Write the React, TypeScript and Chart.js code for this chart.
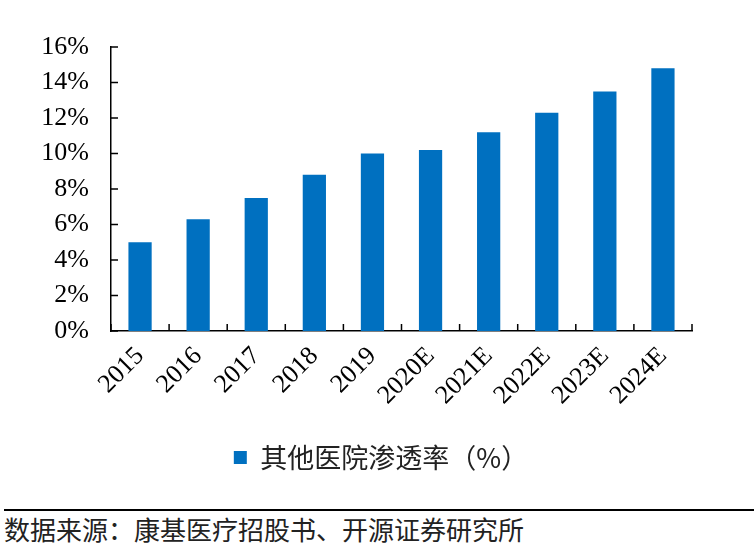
import { useEffect, useRef } from 'react'
import { Chart, registerables } from 'chart.js'

Chart.register(...registerables)

const years = ['2015', '2016', '2017', '2018', '2019', '2020E', '2021E', '2022E', '2023E', '2024E']
const penetration = [5.0, 6.3, 7.5, 8.8, 10.0, 10.2, 11.2, 12.3, 13.5, 14.8]
const seriesName = '其他医院渗透率（%）'
const sourceText = '数据来源：康基医疗招股书、开源证券研究所'

const serif = '"Liberation Serif", "Times New Roman", serif'
const cjk = '"Noto Sans CJK SC", sans-serif'

// ticks point into the plot, so draw them by hand
const innerTicks = {
  id: 'innerTicks',
  afterDraw(chart: any) {
    const ctx = chart.ctx
    const x = chart.scales.x
    const y = chart.scales.y
    ctx.save()
    ctx.strokeStyle = '#000'
    ctx.lineWidth = 1.5
    ctx.beginPath()
    y.ticks.forEach((t: any) => {
      const py = y.getPixelForValue(t.value)
      ctx.moveTo(x.left, py)
      ctx.lineTo(x.left + 7, py)
    })
    for (let i = 0; i <= years.length; i++) {
      const px = x.getPixelForValue(i - 0.5)
      ctx.moveTo(px, y.bottom)
      ctx.lineTo(px, y.bottom - 7)
    }
    ctx.stroke()
    ctx.restore()
  },
}

const App = () => {
  const chartRef = useRef<HTMLCanvasElement>(null)

  useEffect(() => {
    document.body.style.margin = '0'
    if (!chartRef.current) return
    const myChart = new Chart(chartRef.current, {
      type: 'bar',
      data: {
        labels: years,
        datasets: [
          {
            label: seriesName,
            data: penetration,
            backgroundColor: '#0070C0',
            barPercentage: 0.4,
            categoryPercentage: 1,
          },
        ],
      },
      options: {
        animation: false,
        responsive: false,
        layout: { padding: { top: 47, right: 26, bottom: 19, left: 34 } },
        plugins: {
          tooltip: { enabled: false },
          legend: {
            position: 'bottom',
            labels: {
              boxWidth: 13,
              boxHeight: 13,
              padding: 10,
              color: '#222',
              font: { family: cjk, size: 27 },
            },
          },
        },
        scales: {
          x: {
            grid: { display: false, drawTicks: false },
            border: { color: '#000', width: 1.5 },
            ticks: {
              maxRotation: 45,
              minRotation: 45,
              padding: 10,
              color: '#000',
              font: { family: serif, size: 26 },
            },
            afterFit(scale: any) {
              scale.height = 103
            },
          },
          y: {
            min: 0,
            max: 16,
            grid: { display: false, drawTicks: false },
            border: { color: '#000', width: 1.5 },
            ticks: {
              stepSize: 2,
              padding: 22,
              color: '#000',
              font: { family: serif, size: 26 },
              callback: (v: any) => v + '%',
            },
            afterFit(scale: any) {
              scale.width = 77
            },
          },
          // empty spacer on the right so the legend sits where the original has it
          spacer: {
            type: 'linear',
            position: 'right',
            grid: { display: false, drawTicks: false },
            border: { display: false },
            ticks: { display: false },
            afterFit(scale: any) {
              scale.width = 36
            },
          },
        },
      },
      plugins: [innerTicks],
    })
    return () => {
      myChart.destroy()
    }
  }, [])

  return (
    <div style={{ position: 'relative', width: 754, height: 547, background: '#fff' }}>
      <canvas ref={chartRef} width={754} height={500} />
      <div
        style={{
          position: 'absolute',
          left: 4,
          right: 0,
          top: 509,
          borderTop: '2.5px solid #000',
        }}
      />
      <div
        style={{
          position: 'absolute',
          left: 4,
          top: 512,
          fontFamily: cjk,
          fontSize: 26,
          lineHeight: '34px',
          color: '#222',
          whiteSpace: 'nowrap',
        }}
      >
        {sourceText}
      </div>
    </div>
  )
}

export default App
